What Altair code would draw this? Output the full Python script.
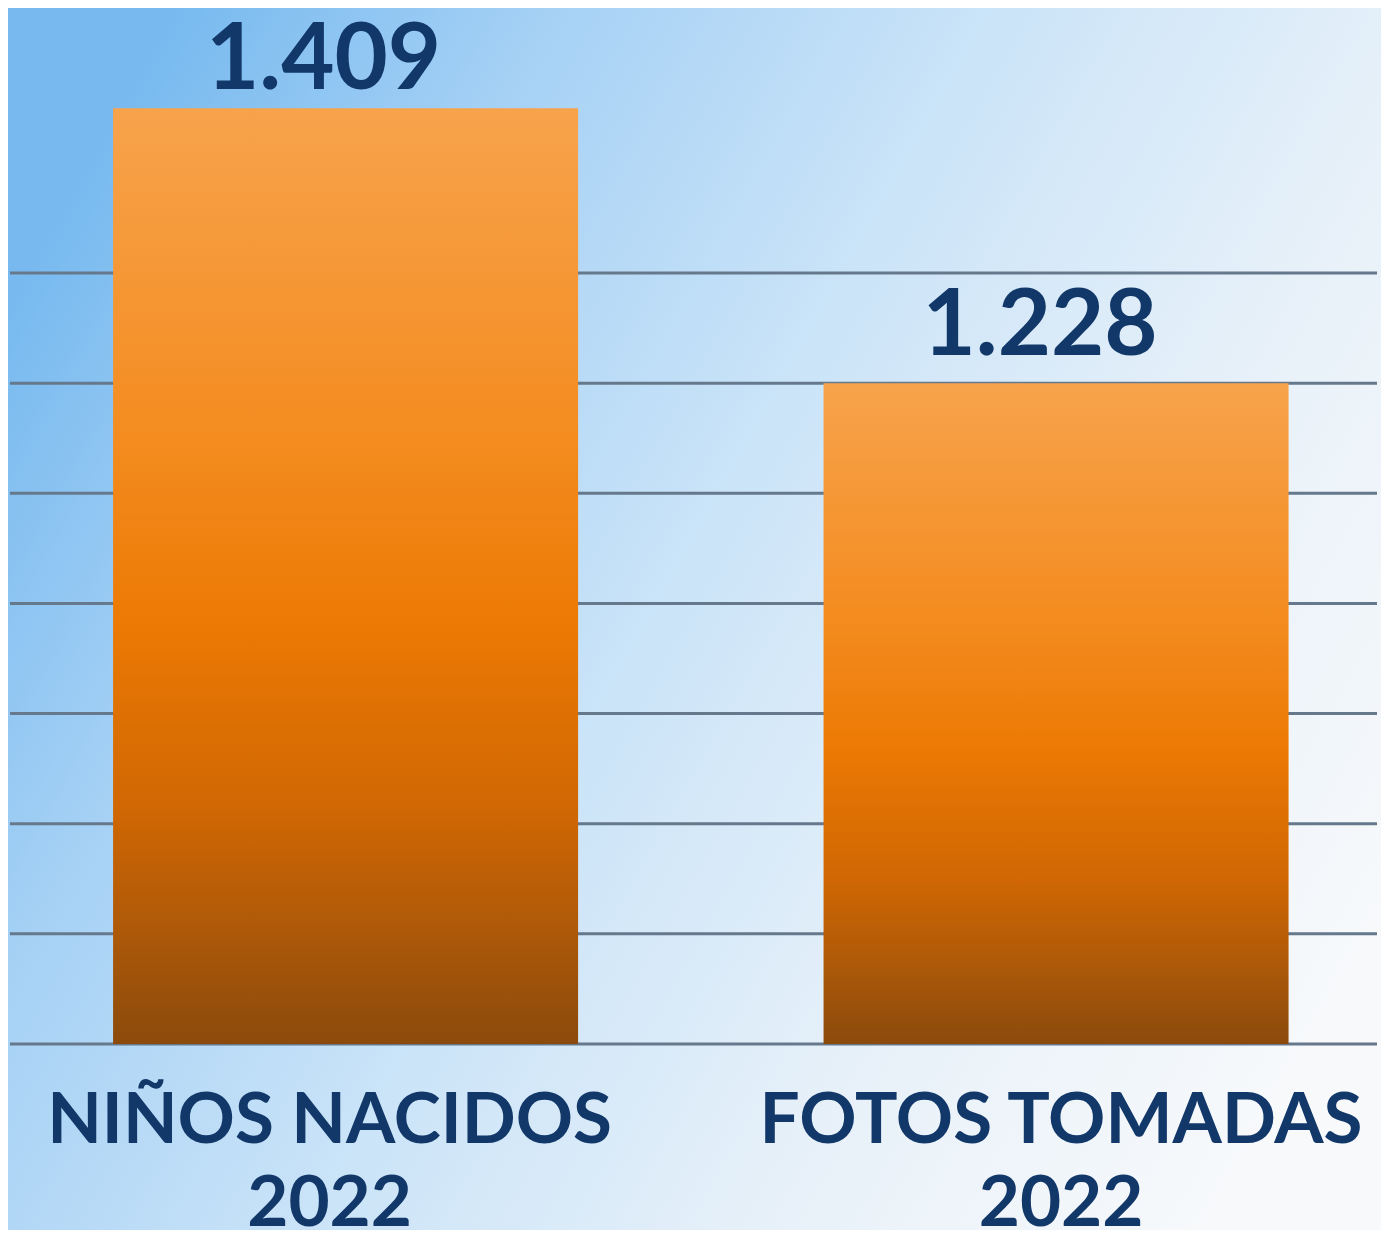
import altair as alt
import pandas as pd

# ---- data ----
categories = ["NIÑOS NACIDOS\n2022", "FOTOS TOMADAS\n2022"]
values = [1409, 1228]
value_labels = ["1.409", "1.228"]
grid_values = [793, 865.5, 938, 1010.5, 1083, 1155.5, 1228, 1300.5]
baseline = 793

W, H = 1373, 1036
BOTTOM = 186

df = pd.DataFrame({"cat": categories, "value": values, "label": value_labels, "base": baseline})
grid_df = pd.DataFrame({"g": grid_values})

NAVY = "#12386a"
FONT = "Lato"

xscale = alt.Scale(domain=categories, paddingInner=0.3455, paddingOuter=0.139, align=0.532)
yscale = alt.Scale(domain=[793, 1475], zero=False, nice=False)

bg = alt.Chart(pd.DataFrame({"a": [0]})).mark_rect(
    color=alt.LinearGradient(
        gradient="linear", x1=0, y1=0.25, x2=1, y2=0.75,
        stops=[alt.GradientStop(color="#78baef", offset=0),
               alt.GradientStop(color="#a6d1f5", offset=0.22),
               alt.GradientStop(color="#cbe4f8", offset=0.48),
               alt.GradientStop(color="#e8f1f9", offset=0.75),
               alt.GradientStop(color="#f7f9fb", offset=1)]
    )
).encode(x=alt.value(0), x2=alt.value(W), y=alt.value(0), y2=alt.value(H + BOTTOM))

grid = alt.Chart(grid_df).mark_rule(color="#66788c", strokeWidth=3).encode(
    x=alt.value(2), x2=alt.value(1369),
    y=alt.Y("g:Q", scale=yscale, axis=None)
)

bars = alt.Chart(df).mark_bar(
    color=alt.LinearGradient(
        gradient="linear", x1=0, y1=0, x2=0, y2=1,
        stops=[alt.GradientStop(color="#f7a34c", offset=0),
               alt.GradientStop(color="#f48c20", offset=0.35),
               alt.GradientStop(color="#ec7a04", offset=0.55),
               alt.GradientStop(color="#d06703", offset=0.75),
               alt.GradientStop(color="#b05a08", offset=0.87),
               alt.GradientStop(color="#8b4a0c", offset=1)]
    )
).encode(
    x=alt.X("cat:N", scale=xscale, axis=None, sort=categories),
    y=alt.Y("value:Q", scale=yscale, axis=None),
    y2="base:Q"
)

layers = [bg, grid, bars]
val_dx = [-22, -16]
val_dy = [-19, -28]
cat_dx = [-16, 5]
for i, c in enumerate(categories):
    sub = alt.Chart(df).transform_filter(alt.datum.cat == c)
    layers.append(sub.mark_text(
        font=FONT, fontWeight="bold", fontSize=92, color=NAVY,
        baseline="alphabetic", align="center", dx=val_dx[i], dy=val_dy[i]
    ).encode(
        x=alt.X("cat:N", scale=xscale, axis=None, sort=categories),
        y=alt.Y("value:Q", scale=yscale, axis=None),
        text="label:N"
    ))
    layers.append(sub.mark_text(
        font=FONT, fontWeight="bold", fontSize=71, color=NAVY,
        baseline="alphabetic", align="center", dx=cat_dx[i],
        lineBreak="\n", lineHeight=83
    ).encode(
        x=alt.X("cat:N", scale=xscale, axis=None, sort=categories),
        y=alt.value(1135),
        text="cat:N"
    ))

chart = alt.layer(*layers).properties(
    width=W, height=H,
    autosize=alt.AutoSizeParams(type="none"),
    padding={"left": 0, "top": 0, "right": 0, "bottom": BOTTOM},
    background="#ffffff"
).configure_view(stroke=None)

chart.save("out.html", embed_options={"renderer": "svg", "actions": False})
